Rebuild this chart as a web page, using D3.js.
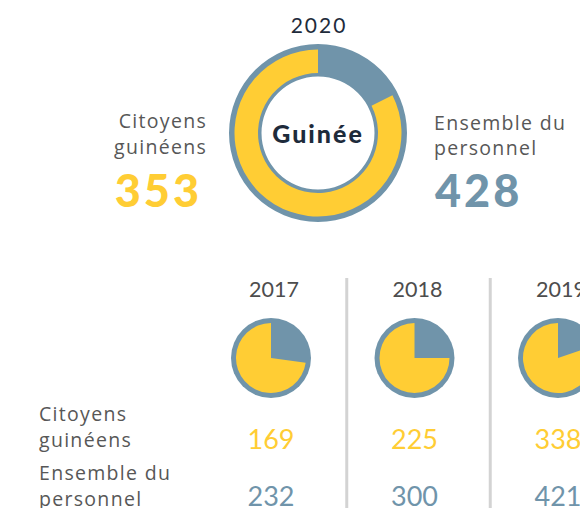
<!DOCTYPE html>
<html>
<head>
<meta charset="utf-8">
<script src="https://cdn.jsdelivr.net/npm/d3@7"></script>
<style>
  html, body { margin: 0; padding: 0; background: #fff; }
  svg { display: block; font-family: "Lato", "Noto Sans", sans-serif; }
  .word { font-family: "Open Sans", "Noto Sans", sans-serif; letter-spacing: 1.3px; }
</style>
</head>
<body>
<svg id="chart" width="580" height="508"></svg>
<script>
// Current year headline
const currentYear = "2020";
const countryName = "Guinée";
const currentNationals = 353;
const currentTotal = 428;

// Previous years
const years = ["2017", "2018", "2019"];
const nationals = [169, 225, 338];
const totals = [232, 300, 421];

const labelNationals = ["Citoyens", "guinéens"];
const labelTotal = ["Ensemble du", "personnel"];

const YELLOW = "#ffcd34";
const BLUE = "#7094aa";
const NAVY = "#1e2b3b";
const GREY_TEXT = "#575757";

const svg = d3.select("#chart");

// share of the circle: the remainder runs clockwise from 12 o'clock, nationals fill the rest
const angle = d3.scaleLinear().range([0, 2 * Math.PI]);

// ---- Main donut ----
const cx = 318, cy = 133;
angle.domain([0, currentTotal]);
const main = svg.append("g").attr("transform", `translate(${cx},${cy})`);
main.append("path")
  .attr("d", d3.arc()({innerRadius: 56.5, outerRadius: 89, startAngle: 0, endAngle: 2 * Math.PI}))
  .attr("fill", BLUE);
main.append("path")
  .attr("d", d3.arc()({innerRadius: 60, outerRadius: 83.5,
    startAngle: angle(currentTotal - currentNationals), endAngle: 2 * Math.PI}))
  .attr("fill", YELLOW);
main.append("text").attr("y", 10).attr("text-anchor", "middle")
  .attr("font-size", 25).attr("font-weight", 900).attr("letter-spacing", 2)
  .attr("fill", NAVY)
  .text(countryName);

svg.append("text").attr("x", cx + 1).attr("y", 33).attr("text-anchor", "middle")
  .attr("font-size", 21).attr("letter-spacing", 2).attr("fill", NAVY).text(currentYear);

// left side: nationals
svg.append("g").selectAll("text").data(labelNationals).join("text")
  .attr("class", "word")
  .attr("x", 207).attr("y", (d, i) => 128 + i * 26)
  .attr("text-anchor", "end").attr("font-size", 19.5).attr("fill", GREY_TEXT)
  .text(d => d);
svg.append("text").attr("x", 202).attr("y", 207).attr("text-anchor", "end")
  .attr("font-size", 45).attr("font-weight", 900).attr("letter-spacing", 3)
  .attr("fill", YELLOW)
  .text(currentNationals);

// right side: total staff
svg.append("g").selectAll("text").data(labelTotal).join("text")
  .attr("class", "word")
  .attr("x", 434).attr("y", (d, i) => 130 + i * 25)
  .attr("font-size", 19.5).attr("fill", GREY_TEXT)
  .text(d => d);
svg.append("text").attr("x", 435).attr("y", 207)
  .attr("font-size", 45).attr("font-weight", 900).attr("letter-spacing", 3)
  .attr("fill", BLUE)
  .text(currentTotal);

// ---- Small multiples ----
const x = d3.scalePoint().domain(years).range([271, 558]);
const pieY = 358;

// dividers between years
const mids = years.slice(1).map((y, i) => (x(years[i]) + x(y)) / 2);
svg.append("g").selectAll("line").data(mids).join("line")
  .attr("x1", d => d + 4).attr("x2", d => d + 4)
  .attr("y1", 278).attr("y2", 508)
  .attr("stroke", "#d3d3d3").attr("stroke-width", 3);

const cols = svg.append("g").selectAll("g").data(years).join("g")
  .attr("transform", d => `translate(${x(d)},0)`);

cols.append("text").attr("x", 3).attr("y", 297).attr("text-anchor", "middle")
  .attr("font-size", 21.5).attr("fill", "#4d4d4d").text(d => d);

cols.append("circle").attr("cy", pieY).attr("r", 40).attr("fill", BLUE);
cols.append("path")
  .attr("transform", `translate(0,${pieY})`)
  .attr("d", (d, i) => {
    angle.domain([0, totals[i]]);
    return d3.arc()({innerRadius: 0, outerRadius: 35,
      startAngle: angle(totals[i] - nationals[i]), endAngle: 2 * Math.PI});
  })
  .attr("fill", YELLOW);

cols.append("text").attr("y", 449).attr("text-anchor", "middle")
  .attr("font-size", 27).attr("fill", YELLOW)
  .text((d, i) => nationals[i]);
cols.append("text").attr("y", 506).attr("text-anchor", "middle")
  .attr("font-size", 27).attr("fill", BLUE)
  .text((d, i) => totals[i]);

// row labels
svg.append("g").selectAll("text").data(labelNationals.concat(labelTotal)).join("text")
  .attr("class", "word")
  .attr("x", 39).attr("y", (d, i) => [421, 447, 480, 506][i])
  .attr("font-size", 19.5).attr("fill", GREY_TEXT)
  .text(d => d);
</script>
</body>
</html>
